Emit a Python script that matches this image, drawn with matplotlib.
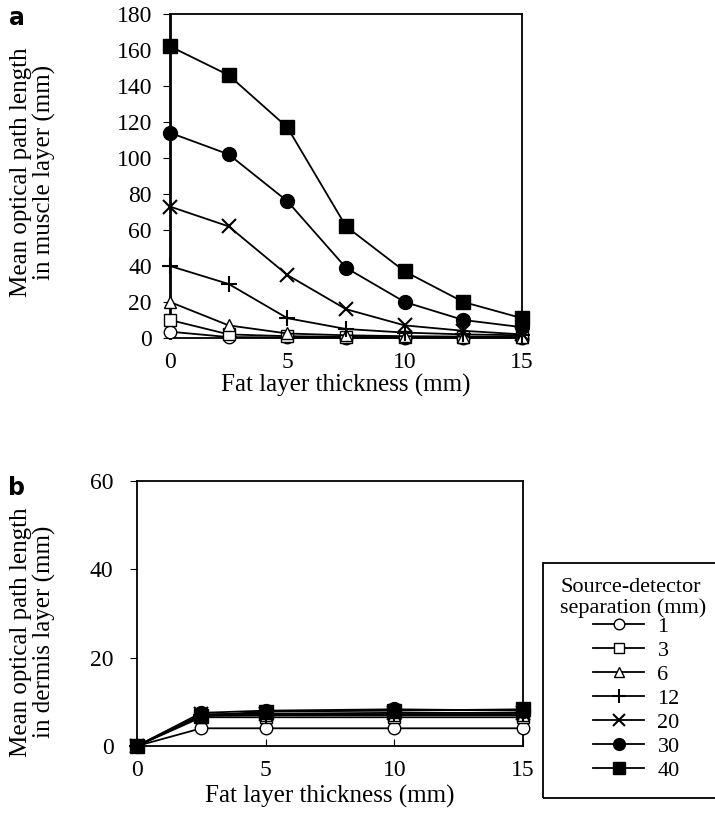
import numpy as np
import matplotlib
matplotlib.use('Agg')
import matplotlib.pyplot as plt
from matplotlib.patches import Rectangle

plt.rcParams['font.family'] = ['Liberation Serif', 'DejaVu Serif']

# fat layer thickness (mm)
fat_a = [0, 2.5, 5, 7.5, 10, 12.5, 15]
fat_b = [0, 2.5, 5, 10, 15]

separations = ['1', '3', '6', '12', '20', '30', '40']

# panel a: mean optical path length in muscle layer (mm)
muscle = {
    '1':  [3.5, 0.5, 0.3, 0.2, 0.2, 0.2, 0.2],
    '3':  [10, 2, 1, 0.6, 0.5, 0.3, 0.3],
    '6':  [20, 7, 2.5, 1.5, 1, 0.8, 0.5],
    '12': [40, 30, 11, 5, 3, 2, 1.5],
    '20': [73, 62, 35, 16, 7, 4, 2],
    '30': [114, 102, 76, 39, 20, 10, 6],
    '40': [162, 146, 117, 62, 37, 20, 11],
}

# panel b: mean optical path length in dermis layer (mm)
dermis = {
    '1':  [0, 4, 4, 4, 4],
    '3':  [0, 6.5, 6.5, 6.5, 6.5],
    '6':  [0, 6.8, 7, 7, 7],
    '12': [0, 7, 7, 7.2, 7.2],
    '20': [0, 7.2, 7.3, 7.5, 7.5],
    '30': [0, 7.5, 8, 8.3, 8],
    '40': [0, 6.8, 7.8, 8, 8.3],
}

styles = {
    '1':  dict(marker='o', mfc='white', ms=9),
    '3':  dict(marker='s', mfc='white', ms=9),
    '6':  dict(marker='^', mfc='white', ms=9),
    '12': dict(marker='+', mfc='black', ms=12, mew=1.5),
    '20': dict(marker='x', mfc='black', ms=10, mew=1.5),
    '30': dict(marker='o', mfc='black', ms=10),
    '40': dict(marker='s', mfc='black', ms=10),
}

fs = 17    # tick labels
lfs = 18   # axis labels

W, H = 715, 836
fig = plt.figure(figsize=(W / 100, H / 100), dpi=100)

# ---- panel a ----
ax1 = fig.add_axes([0.2378, 0.5957, 0.4923, 0.3876])
for s in separations:
    ax1.plot(fat_a, muscle[s], color='black', lw=1.3, mec='black', clip_on=False, zorder=3, **styles[s])
ax1.set_xlim(0, 15)
ax1.set_ylim(0, 180)
ax1.set_xticks([0, 5, 10, 15])
ax1.set_yticks(np.arange(0, 181, 20))
ax1.tick_params(axis='x', length=0, labelsize=fs, pad=10)
ax1.tick_params(axis='y', direction='out', length=5, labelsize=fs, pad=8)
ax1.set_xlabel('Fat layer thickness (mm)', fontsize=lfs, labelpad=1)
for sp in ax1.spines.values():
    sp.set_linewidth(1.3)
ax1.spines['left'].set_linewidth(2)
fig.text(33 / W, 1 - 172 / H, 'Mean optical path length\nin muscle layer (mm)', fontsize=lfs,
         rotation=90, ha='center', va='center', multialignment='center', linespacing=1.0)
fig.text(17 / W, 1 - 18 / H, 'a', fontsize=17, fontweight='bold', family='DejaVu Sans',
         ha='center', va='center')

# ---- panel b ----
ax2 = fig.add_axes([0.1916, 0.1077, 0.540, 0.3169])
for s in separations:
    ax2.plot(fat_b, dermis[s], color='black', lw=1.3, mec='black', clip_on=False, zorder=3, label=s, **styles[s])
ax2.set_xlim(0, 15)
ax2.set_ylim(0, 60)
ax2.set_xticks([0, 5, 10, 15])
ax2.set_yticks([0, 20, 40, 60])
ax2.tick_params(axis='x', direction='in', length=5, labelsize=fs, pad=10)
ax2.tick_params(axis='y', direction='out', length=5, labelsize=fs, pad=12)
ax2.set_xlabel('Fat layer thickness (mm)', fontsize=lfs, labelpad=3)
for sp in ax2.spines.values():
    sp.set_linewidth(1.3)
fig.text(33 / W, 1 - 632 / H, 'Mean optical path length\nin dermis layer (mm)', fontsize=lfs,
         rotation=90, ha='center', va='center', multialignment='center', linespacing=1.0)
fig.text(17 / W, 1 - 488 / H, 'b', fontsize=17, fontweight='bold', family='DejaVu Sans',
         ha='center', va='center')

# ---- legend: box, title and entries ----
box_l, box_t, box_b = 543, 563, 798
fig.patches.append(Rectangle((box_l / W, 1 - box_b / H), (W + 5 - box_l) / W, (box_b - box_t) / H,
                             transform=fig.transFigure, fill=False, edgecolor='black', lw=1.3))
fig.text(560 / W, 1 - 578 / H, 'Source-detector\nseparation (mm)', fontsize=16,
         ha='left', va='top', linespacing=1.1)
handles, labels = ax2.get_legend_handles_labels()
leg = fig.legend(handles, labels, loc='upper left', bbox_to_anchor=(593 / W, 1 - 616 / H),
                 fontsize=16, frameon=False, handlelength=2.3, handletextpad=0.6,
                 labelspacing=0.16, borderpad=0, borderaxespad=0, markerscale=0.85)

fig.savefig('out.png', dpi=100)
